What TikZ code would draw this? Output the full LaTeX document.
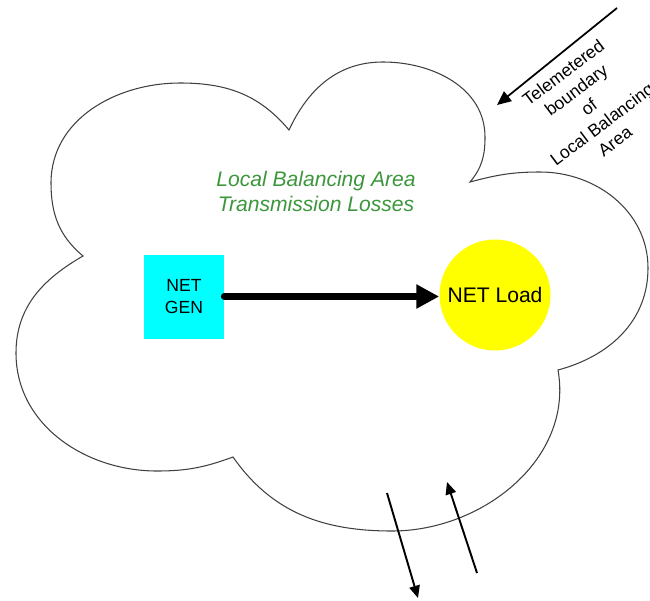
\documentclass[tikz,border=0pt]{standalone}
\usepackage{fontspec}
\setmainfont{Liberation Sans}
\usepackage{tikz}
\usetikzlibrary{arrows.meta}
\definecolor{lbagreen}{RGB}{60,150,60}
\definecolor{gencyan}{RGB}{0,255,255}
\definecolor{loadyellow}{RGB}{255,255,0}

\begin{document}
\begin{tikzpicture}[scale=1,
  bnd/.style={line width=1pt, -{Triangle[length=8pt,width=7pt]}},
  tie/.style={line width=1.1pt, -{Triangle[length=7pt,width=6pt]}}]
 \useasboundingbox (0,0) rectangle (13,12);
 % cloud = local balancing area
 \draw[black!75, line width=0.6pt] (1.66,6.88) to[out=140,in=-90] (1.02,8.34) to[out=90,in=180] (3.60,10.34)
   to[out=0,in=130] (5.78,9.40) to[out=65,in=180] (7.66,10.76) to[out=0,in=90] (9.70,9.26)
   to[out=-90,in=50] (9.40,8.36) to[out=15,in=180] (10.80,8.56) to[out=0,in=90] (12.96,6.64)
   to[out=-90,in=15] (11.16,4.60) to[out=-80,in=0] (7.84,1.38) to[out=180,in=-55] (4.66,2.86)
   to[out=200,in=0] (3.14,2.58) to[out=180,in=-90] (0.32,4.94) to[out=90,in=210] (1.66,6.88) -- cycle;
 \node[fill=gencyan, minimum width=1.6cm, minimum height=1.68cm, inner sep=0pt, align=center,
   font=\fontsize{10}{12.3}\selectfont] (gen) at (3.68,6.07) {NET\\GEN};
 \node[circle, fill=loadyellow, minimum size=2.22cm, inner sep=0pt,
   font=\fontsize{12}{14}\selectfont] (load) at (9.90,6.10) {NET Load};
 \draw[line width=4pt, line cap=round, -{Triangle[length=13pt,width=13pt]}] (gen) -- (gen -| load.west);
 \node[text=lbagreen, align=center, font=\fontsize{12}{14.2}\selectfont\itshape] (losses) at (6.32,8.18)
   {Local Balancing Area\\Transmission Losses};
 \node[rotate=37, align=center, font=\fontsize{10}{12.2}\selectfont] (tele) at (11.78,9.86)
   {Telemetered\\boundary\\of\\Local Balancing\\Area};
 \coordinate (t1) at (12.34,11.84);
 \coordinate (t2) at (9.94,9.90);
 \draw[bnd] (t1) -- (t2);
 %\draw interchange in and out
 \coordinate (out1) at (7.74,2.14);
 \coordinate (out2) at (8.36,0.04);
 \coordinate (in1) at (9.54,0.54);
 \coordinate (in2) at (8.94,2.36);
 \draw[tie] (out1) -- (out2);
 \draw[tie] (in1) -- (in2);
\end{tikzpicture}
\end{document}
